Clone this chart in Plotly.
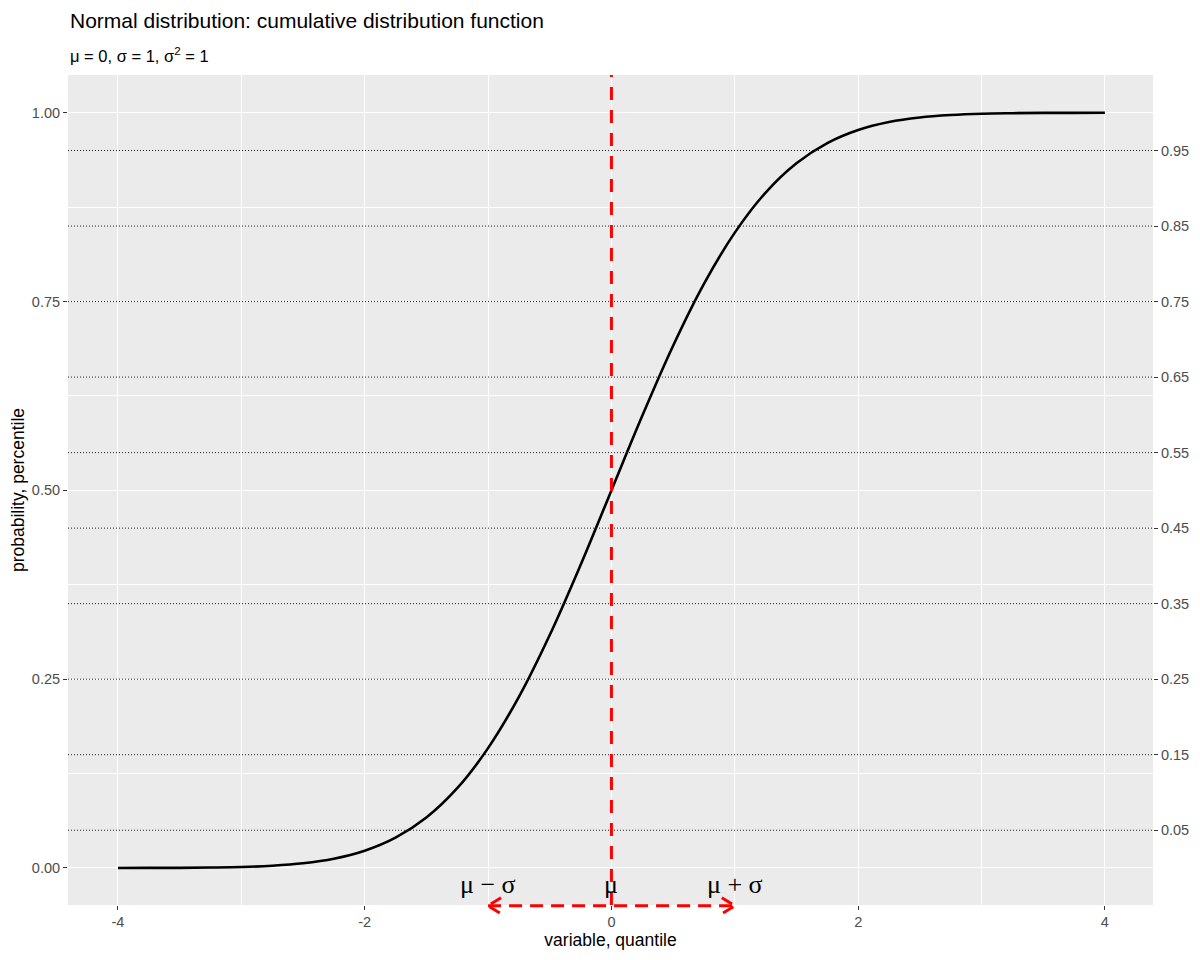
import plotly.graph_objects as go

# Normal CDF curve (mu=0, sigma=1)
x_vals = [-4.0, -3.75, -3.5, -3.25, -3.0, -2.75, -2.5, -2.25, -2.0, -1.75, -1.5, -1.25,
          -1.0, -0.75, -0.5, -0.25, 0.0, 0.25, 0.5, 0.75, 1.0, 1.25, 1.5, 1.75,
          2.0, 2.25, 2.5, 2.75, 3.0, 3.25, 3.5, 3.75, 4.0]
y_vals = [0.00003, 0.0001, 0.0002, 0.0006, 0.0013, 0.003, 0.0062, 0.0122, 0.0228, 0.0401,
          0.0668, 0.1056, 0.1587, 0.2266, 0.3085, 0.4013, 0.5, 0.5987, 0.6915, 0.7734,
          0.8413, 0.8944, 0.9332, 0.9599, 0.9772, 0.9878, 0.9938, 0.997, 0.9987,
          0.9994, 0.9998, 0.9999, 0.99997]

hline_vals = [0.05, 0.15, 0.25, 0.35, 0.45, 0.55, 0.65, 0.75, 0.85, 0.95]
hline_labels = ["0.05", "0.15", "0.25", "0.35", "0.45", "0.55", "0.65", "0.75", "0.85", "0.95"]

x_ticks = [-4, -2, 0, 2, 4]
x_tick_labels = ["-4", "-2", "0", "2", "4"]
y_ticks = [0.0, 0.25, 0.5, 0.75, 1.0]
y_tick_labels = ["0.00", "0.25", "0.50", "0.75", "1.00"]

mu = 0
sigma = 1
arrow_y = -0.05
label_y = -0.022
sym_labels = ["μ − σ", "μ", "μ + σ"]
sym_x = [mu - sigma, mu, mu + sigma]

X_RANGE = [-4.405, 4.39]
Y_RANGE = [-0.049, 1.05]

TICK_COL = "#4D4D4D"
TICK_LINE = "#333333"
TICK_SIZE = 14.5

fig = go.Figure()

fig.add_trace(go.Scatter(x=x_vals, y=y_vals, mode="lines",
                         line=dict(color="black", width=2.6, shape="spline"),
                         showlegend=False, hoverinfo="skip"))

# dummy trace for secondary axis
fig.add_trace(go.Scatter(x=[None], y=[None], yaxis="y2", showlegend=False, hoverinfo="skip"))

shapes = []
for v in hline_vals:
    shapes.append(dict(type="line", xref="x domain", yref="y", x0=0, x1=1, y0=v, y1=v,
                       line=dict(color="#222222", width=1, dash="1px,2px"), layer="above"))

# red vertical dashed line at mu
shapes.append(dict(type="line", xref="x", yref="y domain", x0=mu, x1=mu, y0=0, y1=1,
                   line=dict(color="#FF0000", width=3, dash="13px,10px"), layer="above"))

# red dashed double arrow between mu-sigma and mu+sigma (not clipped vertically)
arrow_dom = (arrow_y - Y_RANGE[0]) / (Y_RANGE[1] - Y_RANGE[0])
shapes.append(dict(type="line", xref="x", yref="y domain", x0=mu - sigma, x1=mu + sigma,
                   y0=arrow_dom, y1=arrow_dom,
                   line=dict(color="#FF0000", width=3, dash="13px,8px"), layer="above"))
shapes.append(dict(type="path", xref="x", yref="y domain", xsizemode="pixel", ysizemode="pixel",
                   xanchor=mu - sigma, yanchor=arrow_dom,
                   path="M 13,8 L 0,0 L 13,-8",
                   line=dict(color="#FF0000", width=3, dash="12px,5px"), layer="above"))
shapes.append(dict(type="path", xref="x", yref="y domain", xsizemode="pixel", ysizemode="pixel",
                   xanchor=mu + sigma, yanchor=arrow_dom,
                   path="M -13,8 L 0,0 L -13,-8",
                   line=dict(color="#FF0000", width=3, dash="12px,5px"), layer="above"))

annotations = []
for t, xv in zip(sym_labels, sym_x):
    annotations.append(dict(text=t, x=xv, y=label_y, xref="x", yref="y", showarrow=False,
                            font=dict(family="Liberation Serif", size=26, color="black"),
                            xanchor="center", yanchor="middle"))

annotations.append(dict(text="Normal distribution: cumulative distribution function",
                        xref="paper", yref="paper", x=0, y=1.066, xanchor="left", yanchor="middle",
                        showarrow=False, font=dict(family="Liberation Sans", size=21, color="black")))
annotations.append(dict(text="μ = 0, σ = 1, σ<sup>2</sup> = 1",
                        xref="paper", yref="paper", x=0, y=1.024, xanchor="left", yanchor="middle",
                        showarrow=False, font=dict(family="Liberation Sans", size=16.5, color="black")))

fig.update_layout(
    width=1192, height=952,
    margin=dict(l=60, r=47, t=67, b=55, autoexpand=False),
    paper_bgcolor="white",
    plot_bgcolor="#EBEBEB",
    shapes=shapes,
    annotations=annotations,
    font=dict(family="Liberation Sans", color="black"),
    xaxis=dict(
        range=X_RANGE, tickvals=x_ticks, ticktext=x_tick_labels,
        showgrid=True, gridcolor="white", gridwidth=1.1, zeroline=False,
        ticks="outside", ticklen=4, tickcolor=TICK_LINE, tickwidth=1,
        tickfont=dict(size=TICK_SIZE, color=TICK_COL, family="Liberation Sans"),
        minor=dict(dtick=1, tick0=-3, showgrid=True, gridcolor="white", gridwidth=0.5, ticks=""),
        title=dict(text="variable, quantile", font=dict(size=17.5, color="black"), standoff=3),
        showline=False,
    ),
    yaxis=dict(
        range=Y_RANGE, tickvals=y_ticks, ticktext=y_tick_labels,
        showgrid=True, gridcolor="white", gridwidth=1.1, zeroline=False,
        ticks="outside", ticklen=4, tickcolor=TICK_LINE, tickwidth=1,
        tickfont=dict(size=TICK_SIZE, color=TICK_COL, family="Liberation Sans"),
        minor=dict(dtick=0.25, tick0=0.125, showgrid=True, gridcolor="white", gridwidth=0.5, ticks=""),
        title=dict(text="probability, percentile", font=dict(size=17.5, color="black"), standoff=4),
        showline=False,
    ),
    yaxis2=dict(
        range=Y_RANGE, overlaying="y", side="right",
        tickvals=hline_vals, ticktext=hline_labels, showgrid=False, zeroline=False,
        ticks="outside", ticklen=4, tickcolor=TICK_LINE, tickwidth=1,
        tickfont=dict(size=TICK_SIZE, color=TICK_COL, family="Liberation Sans"),
        showline=False,
    ),
)

fig.write_html("out.html")
